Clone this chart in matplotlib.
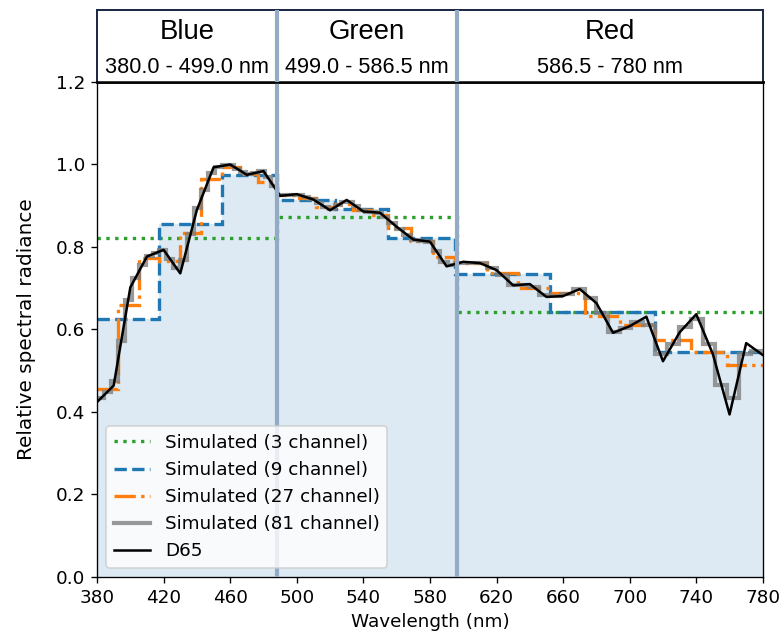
import matplotlib
matplotlib.use("Agg")
import matplotlib.pyplot as plt
import numpy as np

# D65 relative spectral power, 10 nm steps, normalised to the 460 nm peak
wl = np.arange(380, 781, 10)
d65 = [0.424, 0.464, 0.702, 0.777, 0.793, 0.736, 0.890, 0.993, 1.000, 0.975,
       0.984, 0.924, 0.928, 0.915, 0.889, 0.914, 0.886, 0.883, 0.849, 0.818,
       0.813, 0.753, 0.764, 0.761, 0.744, 0.707, 0.710, 0.679, 0.681, 0.698,
       0.664, 0.592, 0.608, 0.631, 0.523, 0.593, 0.637, 0.540, 0.394, 0.567,
       0.538]

# channel edges
edges_3 = [380, 488, 596, 780]
edges_9 = [380, 417.5, 455, 488, 523, 555, 595, 652, 715, 780]

sim_3 = [0.822, 0.873, 0.642]
sim_9 = [0.625, 0.855, 0.975, 0.915, 0.893, 0.822, 0.735, 0.642, 0.545]
sim_27 = [0.455, 0.660, 0.773, 0.765, 0.834, 0.965, 0.995, 0.978, 0.958,
          0.925, 0.918, 0.897, 0.905, 0.890, 0.878, 0.847, 0.815, 0.775,
          0.760, 0.736, 0.700, 0.688, 0.633, 0.611, 0.575, 0.545, 0.515]
sim_81 = [0.433, 0.449, 0.474, 0.573, 0.672, 0.724, 0.756, 0.779, 0.786,
          0.792, 0.771, 0.748, 0.768, 0.832, 0.894, 0.938, 0.980, 0.995,
          0.998, 0.999, 0.990, 0.981, 0.976, 0.979, 0.983, 0.969, 0.947,
          0.925, 0.926, 0.927, 0.926, 0.921, 0.916, 0.906, 0.896, 0.892,
          0.901, 0.910, 0.909, 0.899, 0.889, 0.886, 0.885, 0.883, 0.872,
          0.858, 0.844, 0.830, 0.818, 0.815, 0.813, 0.790, 0.763, 0.756,
          0.762, 0.762, 0.760, 0.749, 0.731, 0.708, 0.709, 0.703, 0.683,
          0.680, 0.686, 0.697, 0.676, 0.639, 0.593, 0.604, 0.618, 0.612,
          0.540, 0.565, 0.605, 0.625, 0.565, 0.465, 0.435, 0.540, 0.548]

bands = ["Blue", "Green", "Red"]
band_ranges = ["380.0 - 499.0 nm", "499.0 - 586.5 nm", "586.5 - 780 nm"]


def split(edges, n):
    # split every channel into n equal sub-channels
    out = [edges[0]]
    for a, b in zip(edges[:-1], edges[1:]):
        out.extend(np.linspace(a, b, n + 1)[1:])
    return np.array(out)


edges_27 = split(edges_9, 3)
edges_81 = split(edges_27, 3)

plt.rcParams["font.size"] = 11

fig = plt.figure(figsize=(6.5, 5.275), dpi=120)
ax = fig.add_axes([0.1244, 0.0885, 0.8536, 0.782])
hdr = fig.add_axes([0.1244, 0.8705, 0.8536, 0.1135])

ax.stairs(sim_9, edges_9, fill=True, color="C0", alpha=0.15, lw=0)
ax.stairs(sim_3, edges_3, baseline=None, color="C2", ls=":", lw=2,
          label="Simulated (3 channel)")
ax.stairs(sim_9, edges_9, baseline=None, color="C0", ls="--", lw=2,
          label="Simulated (9 channel)")
ax.stairs(sim_27, edges_27, baseline=None, color="C1", ls="-.", lw=2,
          label="Simulated (27 channel)")
ax.stairs(sim_81, edges_81, baseline=None, color="grey", alpha=0.8, lw=2.5,
          label="Simulated (81 channel)")
ax.plot(wl, d65, color="k", lw=1.5, label="D65")

ax.set_xlim(380, 780)
ax.set_ylim(0, 1.2)
ax.set_xticks(np.arange(380, 781, 40))
ax.set_yticks(np.arange(0, 1.21, 0.2))
ax.set_xlabel("Wavelength (nm)", labelpad=4)
ax.set_ylabel("Relative spectral radiance", fontsize=12, labelpad=12)
leg = ax.legend(loc="lower left")
leg.set_zorder(20)

# band header
hdr.set_xlim(380, 780)
hdr.set_ylim(0, 1)
hdr.set_xticks([])
hdr.set_yticks([])
for s in ["left", "right", "top"]:
    hdr.spines[s].set_color("#1f2a44")
    hdr.spines[s].set_linewidth(1.2)
hdr.spines["bottom"].set_linewidth(1.5)
ax.spines["top"].set_linewidth(1.5)

for i in range(3):
    mid = (edges_3[i] + edges_3[i + 1]) / 2
    hdr.text(mid, 0.7, bands[i], ha="center", va="center", fontsize=16.5,
             family="Liberation Sans")
    hdr.text(mid, 0.2, band_ranges[i], ha="center", va="center", fontsize=13,
             family="Liberation Sans")

for x in edges_3[1:-1]:
    ax.axvline(x, color="#93abc4", lw=2.5, zorder=10)
    hdr.axvline(x, color="#93abc4", lw=2.5, zorder=10)

fig.savefig("out.png")
